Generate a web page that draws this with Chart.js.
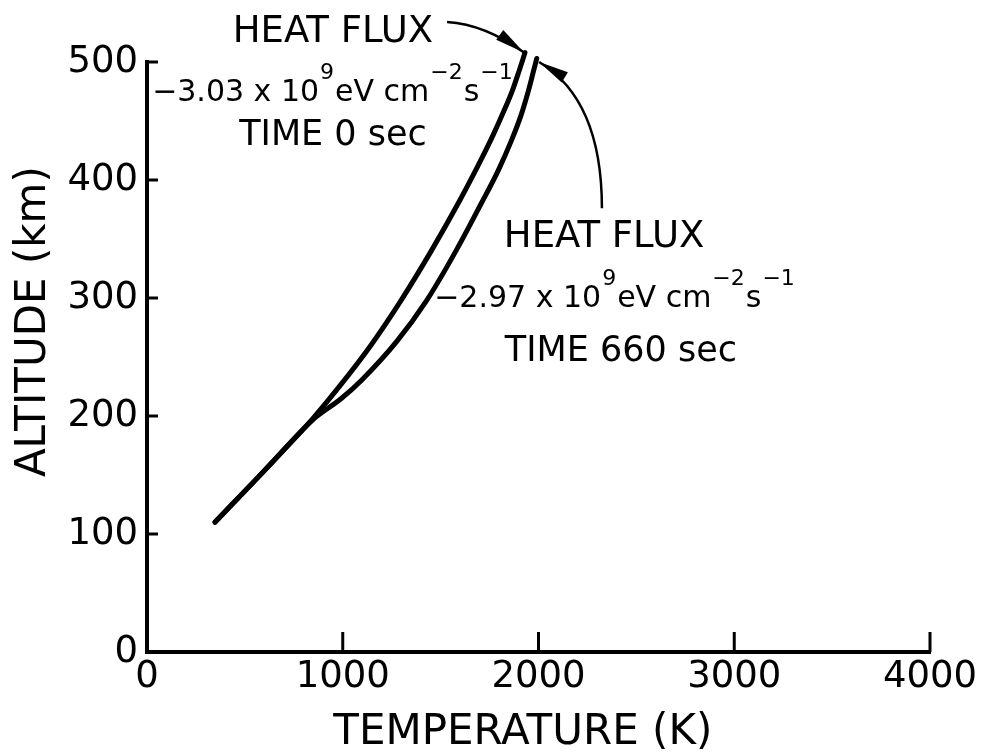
<!DOCTYPE html>
<html>
<head>
<meta charset="utf-8">
<script src="https://cdn.jsdelivr.net/npm/chart.js@4.4.1/dist/chart.umd.min.js"></script>
<style>
  html, body { margin: 0; padding: 0; background: #ffffff; }
  canvas { display: block; }
</style>
</head>
<body>
<canvas id="c" width="985" height="755"></canvas>
<script>
// ---- Data ----
const xTickValues = [0, 1000, 2000, 3000, 4000];
const yTickValues = [0, 100, 200, 300, 400, 500];

// Time 0 sec, heat flux -3.03e9 eV cm^-2 s^-1
const time0Temp = [347, 567, 782, 848, 978, 1144, 1298, 1456, 1599, 1706, 1768, 1814, 1867, 1900, 1931];
const time0Alt  = [110, 148, 186, 198, 224, 260, 298, 341, 383, 417, 438, 455, 476, 492, 508];

// Time 660 sec, heat flux -2.97e9 eV cm^-2 s^-1
const time660Temp = [347, 567, 782, 848, 994, 1100, 1275, 1429, 1582, 1704, 1794, 1863, 1911, 1949, 1974, 1991];
const time660Alt  = [110, 148, 186, 197, 215, 231, 263, 298, 341, 379, 408, 434, 455, 476, 492, 503];

const xTitle = "TEMPERATURE (K)";
const yTitle = "ALTITUDE (km)";

// ---- Annotation content ----
const FONT = '"DejaVu Sans", sans-serif';
const block1 = [
  [{t: "HEAT FLUX"}],
  [{t: "\u22123.03 x 10"}, {t: "9", sup: true}, {t: "eV cm"}, {t: "\u22122", sup: true}, {t: "s"}, {t: "\u22121", sup: true}],
  [{t: "TIME 0 sec"}]
];
const block2 = [
  [{t: "HEAT FLUX"}],
  [{t: "\u22122.97 x 10"}, {t: "9", sup: true}, {t: "eV cm"}, {t: "\u22122", sup: true}, {t: "s"}, {t: "\u22121", sup: true}],
  [{t: "TIME 660 sec"}]
];
// anchors in data units (centre x, baseline y) for each line
const block1Anchors = [[950, 517], [950, 467], [950, 430]];
const block2Anchors = [[2335, 343], [2391, 292], [2421, 247]];
// arrows: tail, control, tip in data units
const arrow1 = [[1533, 534], [1727, 532], [1926, 508]];
const arrow2 = [[2324, 376], [2324, 468], [2003, 500]];

function pts(xs, ys) { return xs.map((x, i) => ({x: x, y: ys[i]})); }

function drawRich(ctx, segs, cx, by, mainSize, supSize, supRise) {
  const widths = segs.map(s => {
    ctx.font = (s.sup ? supSize : mainSize) + 'px ' + FONT;
    return ctx.measureText(s.t).width + (s.sup ? 2 : 0);
  });
  const total = widths.reduce((a, b) => a + b, 0);
  let x = cx - total / 2;
  ctx.textAlign = 'left';
  ctx.textBaseline = 'alphabetic';
  segs.forEach((s, i) => {
    ctx.font = (s.sup ? supSize : mainSize) + 'px ' + FONT;
    ctx.fillText(s.t, x + (s.sup ? 1 : 0), s.sup ? by - supRise : by);
    x += widths[i];
  });
}

function drawArrow(ctx, xs, ys, a) {
  const p0 = {x: xs.getPixelForValue(a[0][0]), y: ys.getPixelForValue(a[0][1])};
  const p1 = {x: xs.getPixelForValue(a[1][0]), y: ys.getPixelForValue(a[1][1])};
  const p2 = {x: xs.getPixelForValue(a[2][0]), y: ys.getPixelForValue(a[2][1])};
  ctx.strokeStyle = '#000';
  ctx.lineWidth = 2.5;
  ctx.beginPath();
  ctx.moveTo(p0.x, p0.y);
  ctx.quadraticCurveTo(p1.x, p1.y, p2.x, p2.y);
  ctx.stroke();
  const dx = p2.x - p1.x, dy = p2.y - p1.y;
  const L = Math.hypot(dx, dy);
  const ux = dx / L, uy = dy / L;
  const len = 30, hw = 6;
  const bx = p2.x - ux * len, by = p2.y - uy * len;
  ctx.fillStyle = '#000';
  ctx.beginPath();
  ctx.moveTo(p2.x, p2.y);
  ctx.lineTo(bx - uy * hw, by + ux * hw);
  ctx.lineTo(bx + uy * hw, by - ux * hw);
  ctx.closePath();
  ctx.fill();
}

const decor = {
  id: 'decor',
  beforeDraw(chart) {
    const ctx = chart.ctx;
    ctx.save();
    ctx.fillStyle = '#ffffff';
    ctx.fillRect(0, 0, chart.width, chart.height);
    ctx.restore();
  },
  afterDraw(chart) {
    const ctx = chart.ctx;
    const xs = chart.scales.x, ys = chart.scales.y;
    const area = chart.chartArea;
    ctx.save();
    ctx.strokeStyle = '#000';
    ctx.lineWidth = 3;
    ctx.lineCap = 'butt';
    // inward ticks
    xTickValues.forEach(v => {
      if (v === 0) return;
      const px = xs.getPixelForValue(v);
      ctx.beginPath();
      ctx.moveTo(px, area.bottom);
      ctx.lineTo(px, area.bottom - 20);
      ctx.stroke();
    });
    yTickValues.forEach(v => {
      if (v === 0) return;
      const py = ys.getPixelForValue(v);
      ctx.beginPath();
      ctx.moveTo(area.left, py);
      ctx.lineTo(area.left + 11, py);
      ctx.stroke();
    });
    // annotation texts
    ctx.fillStyle = '#000';
    const sizes = [37, 30, 35];
    block1.forEach((segs, i) => {
      drawRich(ctx, segs, xs.getPixelForValue(block1Anchors[i][0]), ys.getPixelForValue(block1Anchors[i][1]), sizes[i], 22, 22);
    });
    block2.forEach((segs, i) => {
      drawRich(ctx, segs, xs.getPixelForValue(block2Anchors[i][0]), ys.getPixelForValue(block2Anchors[i][1]), sizes[i], 22, 22);
    });
    drawArrow(ctx, xs, ys, arrow1);
    drawArrow(ctx, xs, ys, arrow2);
    // axis titles
    ctx.fillStyle = '#000';
    ctx.font = '42px ' + FONT;
    ctx.textAlign = 'center';
    ctx.textBaseline = 'middle';
    ctx.fillText(xTitle, xs.getPixelForValue(1920), chart.height - 22);
    ctx.save();
    ctx.translate(34, ys.getPixelForValue(280));
    ctx.rotate(-Math.PI / 2);
    ctx.font = '42px ' + FONT;
    ctx.fillText(yTitle, 0, 0);
    ctx.restore();
    ctx.restore();
  }
};

const lineStyle = {
  showLine: true,
  borderColor: '#000',
  backgroundColor: '#000',
  borderWidth: 5,
  pointRadius: 0,
  cubicInterpolationMode: 'monotone',
  borderCapStyle: 'round',
  borderJoinStyle: 'round',
  clip: false,
  fill: false
};

new Chart(document.getElementById('c'), {
  type: 'scatter',
  data: {
    datasets: [
      Object.assign({label: 'TIME 0 sec', data: pts(time0Temp, time0Alt)}, lineStyle),
      Object.assign({label: 'TIME 660 sec', data: pts(time660Temp, time660Alt)}, lineStyle)
    ]
  },
  options: {
    responsive: false,
    animation: false,
    devicePixelRatio: 1,
    layout: { padding: { top: 62, right: 55, left: 0, bottom: 0 } },
    plugins: { legend: { display: false }, tooltip: { enabled: false } },
    scales: {
      x: {
        type: 'linear',
        min: 0, max: 4000,
        afterBuildTicks: s => { s.ticks = xTickValues.map(v => ({value: v})); },
        afterFit: s => { s.height = 103; },
        ticks: { color: '#000', font: { family: FONT, size: 37 }, padding: 3, maxRotation: 0, autoSkip: false,
                 callback: v => String(v) },
        grid: { display: true, drawOnChartArea: false, drawTicks: false, color: 'rgba(0,0,0,0)' },
        border: { display: true, color: '#000', width: 4 }
      },
      y: {
        type: 'linear',
        min: 0, max: 500,
        afterBuildTicks: s => { s.ticks = yTickValues.map(v => ({value: v})); },
        afterFit: s => { s.width = 147; },
        ticks: { color: '#000', font: { family: FONT, size: 37 }, padding: 9, autoSkip: false,
                 callback: v => String(v) },
        grid: { display: true, drawOnChartArea: false, drawTicks: false, color: 'rgba(0,0,0,0)' },
        border: { display: true, color: '#000', width: 4 }
      }
    }
  },
  plugins: [decor]
});
</script>
</body>
</html>
